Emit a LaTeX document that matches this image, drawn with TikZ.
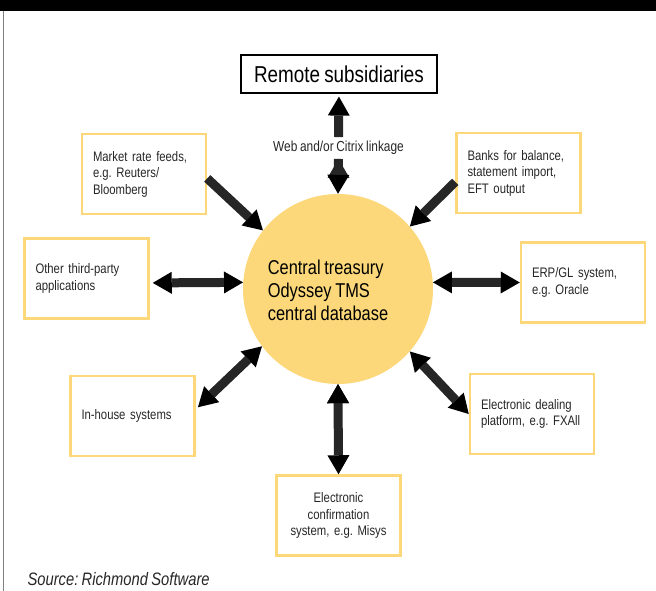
\documentclass[tikz,border=0pt]{standalone}
\usepackage{fontspec}
\setmainfont{Liberation Sans}[FakeStretch=0.82, WordSpace=0.8]
\usetikzlibrary{arrows.meta}
\definecolor{tmsyellow}{HTML}{FCD87A}
\definecolor{inkgray}{HTML}{262626}
\frenchspacing

\begin{document}
\begin{tikzpicture}[x=1pt, y=-1pt, >={Triangle[width=22pt, length=19pt, line width=0pt]}, every node/.style={text=inkgray},
	sys/.style={draw=tmsyellow, line width=2.5pt, minimum width=124pt, minimum height=80pt, text width=102pt, inner xsep=11pt, align=left, font=\fontsize{13.8}{16.5}\selectfont},
	hubnode/.style={circle, fill=tmsyellow, minimum size=190pt},
	oneway/.style={line width=9pt, draw=inkgray, ->},
	twoway/.style={oneway, <->}]
		\useasboundingbox (0,0) rectangle (656,591);
		\fill[black] (0,0) rectangle (656,11.5);
		\draw[gray, line width=1.5pt] (3.5,11.5) -- (3.5,591);
		
		\node[hubnode] (hub) at (338,289) {};
		\node[align=left, text=black, font=\fontsize{20}{23}\selectfont] (hubtext) at (328,290) {Central treasury\\Odyssey TMS\\central database};
		\node[draw=black, line width=1.2pt, minimum width=196pt, minimum height=38pt, text=black, font=\fontsize{23}{26}\selectfont] (remote) at (339,74) {Remote subsidiaries};
		\node[inner sep=4pt, font=\fontsize{14.5}{16.5}\selectfont] (web) at (338.5,148) {Web and/or Citrix linkage};
		\node[sys] (market) at (144,174) {Market rate feeds,\\e.g. Reuters/\\Bloomberg};
		\node[sys] (banks) at (518.5,173) {Banks for balance,\\statement import,\\EFT output};
		\node[sys] (other) at (86.5,278.5) {Other third-party\\applications};
		\node[sys] (erp) at (583,282.5) {ERP/GL system,\\e.g. Oracle};
		\node[sys] (inhouse) at (132.5,416) {In-house systems};
		\node[sys] (dealing) at (532,414) {Electronic dealing\\platform, e.g. FXAll};
		\node[sys, align=center] (confirm) at (338.5,515.5) {Electronic\\confirmation\\system, e.g. Misys};
		\node[anchor=base west, font=\fontsize{18}{20}\selectfont\itshape] (source) at (24,585) {Source: Richmond Software};
		
		\path[oneway]
		(market.-4) edge (hub.142)
		(banks.188) edge (hub.41)
		(web.north) edge [shorten >=3pt] (remote.south)
		(web.south) edge (hub.north);
		\path[twoway]
		(other.-4) edge [shorten <=3pt] (hub.176)
		(hub.4) edge (erp.west)
		(inhouse.6) edge [shorten <=3pt] (hub.217)
		(hub.-41) edge (dealing.west)
		(hub.south) edge (confirm.north);
	\end{tikzpicture}
\end{document}
